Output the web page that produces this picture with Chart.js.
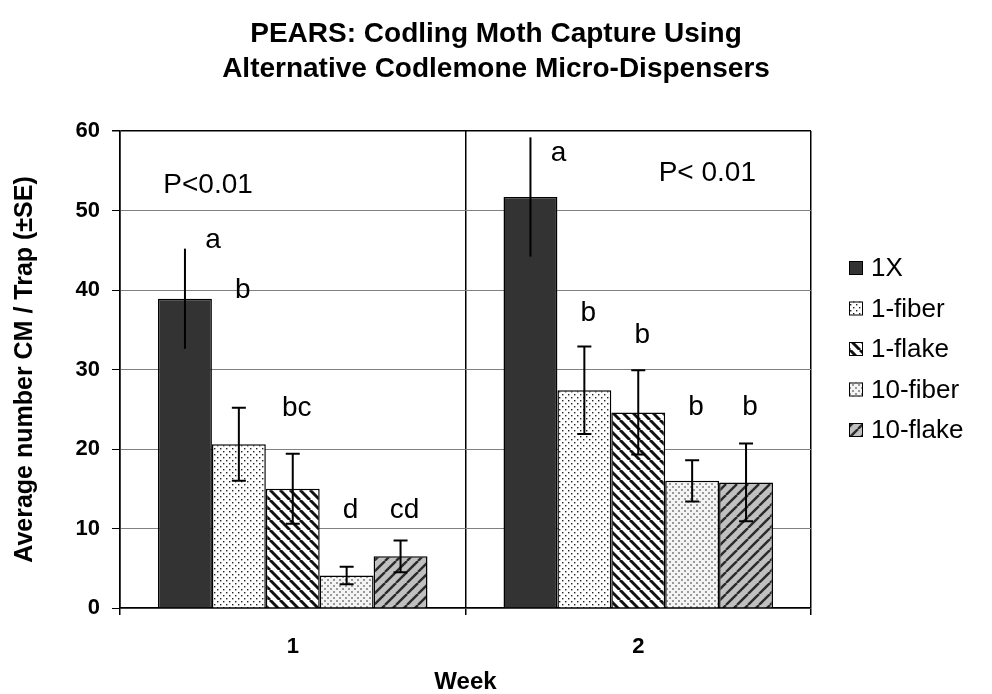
<!DOCTYPE html>
<html>
<head>
<meta charset="utf-8">
<title>PEARS: Codling Moth Capture</title>
<script src="https://cdn.jsdelivr.net/npm/chart.js@4.4.0/dist/chart.umd.min.js"></script>
<style>
  html, body { margin: 0; padding: 0; background: #fff; }
  #wrap { width: 992px; height: 694px; }
</style>
</head>
<body>
<div id="wrap"><canvas id="moth"></canvas></div>
<script>
// data
var weeks = ['1', '2'];
var series = ['1X', '1-fiber', '1-flake', '10-fiber', '10-flake'];

var mean_1x = [38.9, 51.7];
var mean_1fiber = [20.6, 27.4];
var mean_1flake = [15.0, 24.6];
var mean_10fiber = [4.1, 16.0];
var mean_10flake = [6.5, 15.8];

var se_1x = [6.3, 7.5];
var se_1fiber = [4.6, 5.5];
var se_1flake = [4.4, 5.3];
var se_10fiber = [1.1, 2.6];
var se_10flake = [2.0, 4.9];

// mean separation letters and the height they sit at
var letters_1x = ['a', 'a'];
var letters_1fiber = ['b', 'b'];
var letters_1flake = ['bc', 'b'];
var letters_10fiber = ['d', 'b'];
var letters_10flake = ['cd', 'b'];
var letterY_1x = [46.3, 57.2];
var letterY_1fiber = [40.0, 37.1];
var letterY_1flake = [25.1, 34.3];
var letterY_10fiber = [12.3, 25.3];
var letterY_10flake = [12.3, 25.3];

var pText = ['P<0.01', 'P< 0.01'];
var yTicks = [0, 10, 20, 30, 40, 50, 60];

var FONT = "'Liberation Sans', Arial, sans-serif";

function makePattern(size, draw) {
  var c = document.createElement('canvas');
  c.width = size; c.height = size;
  var g = c.getContext('2d');
  draw(g, size);
  return document.createElement('canvas').getContext('2d').createPattern(c, 'repeat');
}

function dots(bg, fg, r, pts) {
  return function (g, s) {
    g.fillStyle = bg; g.fillRect(0, 0, s, s);
    g.fillStyle = fg;
    pts.forEach(function (p) { g.fillRect(p[0], p[1], r, r); });
  };
}

function stripes(bg, fg, w, dir) {
  return function (g, s) {
    g.fillStyle = bg; g.fillRect(0, 0, s, s);
    g.strokeStyle = fg; g.lineWidth = w;
    for (var k = -1; k <= 1; k++) {
      g.beginPath();
      if (dir > 0) { g.moveTo(k * s, s); g.lineTo(k * s + s, 0); }
      else { g.moveTo(k * s, 0); g.lineTo(k * s + s, s); }
      g.stroke();
    }
  };
}

var fills = [
  '#333333',
  makePattern(6, dots('#ffffff', '#222222', 1.4, [[1, 1], [4, 4]])),
  makePattern(10, stripes('#ffffff', '#111111', 3, -1)),
  makePattern(6, dots('#f4f4f4', '#9a9a9a', 2, [[0, 0], [3, 3]])),
  makePattern(11, stripes('#c0c0c0', '#2a2a2a', 2.4, 1))
];

var means = [mean_1x, mean_1fiber, mean_1flake, mean_10fiber, mean_10flake];
var ses = [se_1x, se_1fiber, se_1flake, se_10fiber, se_10flake];
var letters = [letters_1x, letters_1fiber, letters_1flake, letters_10fiber, letters_10flake];
var letterY = [letterY_1x, letterY_1fiber, letterY_1flake, letterY_10fiber, letterY_10flake];

var datasets = series.map(function (name, i) {
  return {
    label: name,
    data: means[i],
    se: ses[i],
    letters: letters[i],
    letterY: letterY[i],
    backgroundColor: fills[i],
    borderColor: '#000',
    borderWidth: 1.5,
    borderSkipped: 'bottom',
    categoryPercentage: 0.78,
    barPercentage: 1.0
  };
});

// error bars, letters and P values
var annotations = {
  id: 'annotations',
  afterDatasetsDraw: function (chart) {
    var ctx = chart.ctx, y = chart.scales.y, x = chart.scales.x;
    ctx.save();
    chart.data.datasets.forEach(function (ds, i) {
      var meta = chart.getDatasetMeta(i);
      meta.data.forEach(function (bar, j) {
        var top = y.getPixelForValue(ds.data[j] + ds.se[j]);
        var bot = y.getPixelForValue(ds.data[j] - ds.se[j]);
        var cap = i === 0 ? 0 : 7;
        ctx.strokeStyle = '#000';
        ctx.lineWidth = 2;
        ctx.beginPath();
        ctx.moveTo(bar.x, top); ctx.lineTo(bar.x, bot);
        if (cap) {
          ctx.moveTo(bar.x - cap, top); ctx.lineTo(bar.x + cap, top);
          ctx.moveTo(bar.x - cap, bot); ctx.lineTo(bar.x + cap, bot);
        }
        ctx.stroke();

        ctx.fillStyle = '#000';
        ctx.font = '28px ' + FONT;
        ctx.textAlign = 'center';
        ctx.textBaseline = 'middle';
        ctx.fillText(ds.letters[j], bar.x + (i === 0 ? 28 : 4), y.getPixelForValue(ds.letterY[j]));
      });
    });
    ctx.font = '28px ' + FONT;
    ctx.fillText(pText[0], x.getPixelForValue(-0.245), y.getPixelForValue(53.2));
    ctx.fillText(pText[1], x.getPixelForValue(1.2), y.getPixelForValue(54.7));
    ctx.restore();
  }
};

// legend on the right, drawn from the datasets
var sideLegend = {
  id: 'sideLegend',
  afterDraw: function (chart) {
    var ctx = chart.ctx;
    var left = chart.chartArea.right + 38;
    var top = 268;
    ctx.save();
    ctx.font = '26px ' + FONT;
    ctx.textBaseline = 'middle';
    ctx.textAlign = 'left';
    chart.data.datasets.forEach(function (ds, i) {
      var cy = top + i * 40.5;
      ctx.fillStyle = ds.backgroundColor;
      ctx.fillRect(left, cy - 7, 14, 14);
      ctx.strokeStyle = '#000';
      ctx.lineWidth = 1;
      ctx.strokeRect(left + 0.5, cy - 6.5, 13, 13);
      ctx.fillStyle = '#000';
      ctx.fillText(ds.label, left + 22, cy + 1);
    });
    ctx.restore();
  }
};

new Chart(document.getElementById('moth'), {
  type: 'bar',
  data: { labels: weeks, datasets: datasets },
  plugins: [annotations, sideLegend],
  options: {
    responsive: true,
    maintainAspectRatio: false,
    animation: false,
    layout: { padding: 0 },
    plugins: {
      legend: { display: false },
      tooltip: { enabled: false },
      title: {
        display: true,
        text: ['PEARS: Codling Moth Capture Using', 'Alternative Codlemone Micro-Dispensers'],
        color: '#000',
        font: { family: FONT, size: 28, weight: 'bold', lineHeight: 1.25 },
        padding: { top: 17, bottom: 44 }
      }
    },
    scales: {
      x: {
        afterFit: function (s) { s.height = 86; },
        grid: {
          offset: true,
          color: '#000',
          lineWidth: 1.5,
          tickLength: 7,
          tickColor: '#000'
        },
        border: { color: '#000', width: 1.5 },
        ticks: { color: '#000', padding: 19, font: { family: FONT, size: 22, weight: 'bold' } },
        title: {
          display: true,
          text: 'Week',
          color: '#000',
          padding: { top: 0, bottom: 0 },
          font: { family: FONT, size: 24, weight: 'bold', lineHeight: 1 }
        }
      },
      y: {
        min: 0,
        max: 60,
        afterFit: function (s) { s.width = 120; },
        afterBuildTicks: function (s) { s.ticks = yTicks.map(function (v) { return { value: v }; }); },
        grid: {
          color: function (c) { return c.tick && c.tick.value === 60 ? '#000' : '#808080'; },
          lineWidth: function (c) { return c.tick && c.tick.value === 60 ? 1.5 : 1; },
          tickLength: 8,
          tickColor: '#000'
        },
        border: { color: '#000', width: 1.5 },
        ticks: { color: '#000', padding: 12, font: { family: FONT, size: 22, weight: 'bold' } },
        title: {
          display: true,
          text: 'Average number CM / Trap (\u00B1SE)',
          color: '#000',
          padding: { top: 10, bottom: 0 },
          font: { family: FONT, size: 25, weight: 'bold' }
        }
      },
      // empty right-hand axis that keeps room for the legend
      legendSpace: {
        position: 'right',
        afterFit: function (s) { s.width = 181; },
        grid: { display: false, drawTicks: false },
        border: { display: false },
        ticks: { display: false }
      }
    }
  }
});
</script>
</body>
</html>
